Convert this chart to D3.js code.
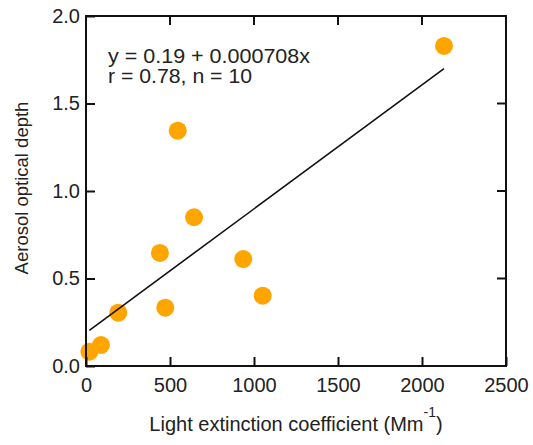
<!DOCTYPE html>
<html><head><meta charset="utf-8">
<script src="https://cdn.jsdelivr.net/npm/d3@7"></script>
<style>body{margin:0;background:#fff}svg{display:block}text{font-family:"Liberation Sans",Arial,sans-serif;fill:#222}</style>
</head><body>
<script>
const extinction = [20, 89, 192, 440, 472, 546, 643, 936, 1052, 2131];
const aod = [0.082, 0.12, 0.305, 0.646, 0.333, 1.345, 0.850, 0.611, 0.402, 1.829];
const xTicks = [0, 500, 1000, 1500, 2000, 2500];
const yTicks = [0.0, 0.5, 1.0, 1.5, 2.0];
const fitIntercept = 0.19, fitSlope = 0.000708;
const annotation = ["y = 0.19 + 0.000708x", "r = 0.78, n = 10"];

const W = 533, H = 445;
const m = {left: 86, right: 27, top: 16, bottom: 79};
const svg = d3.select("body").append("svg").attr("width", W).attr("height", H);
const x = d3.scaleLinear().domain([0, 2500]).range([m.left, W - m.right]);
const y = d3.scaleLinear().domain([0, 2]).range([H - m.bottom, m.top]);

// points
svg.append("g").selectAll("circle").data(extinction).join("circle")
  .attr("cx", (d) => x(d)).attr("cy", (d, i) => y(aod[i])).attr("r", 9).attr("fill", "#FFA500");

// regression line
const x0 = d3.min(extinction), x1 = d3.max(extinction);
svg.append("line").attr("x1", x(x0)).attr("y1", y(fitIntercept + fitSlope * x0))
  .attr("x2", x(x1)).attr("y2", y(fitIntercept + fitSlope * x1))
  .attr("stroke", "#111").attr("stroke-width", 1.6);

// frame
svg.append("rect").attr("x", m.left).attr("y", m.top).attr("width", W - m.left - m.right)
  .attr("height", H - m.top - m.bottom).attr("fill", "none").attr("stroke", "#111").attr("stroke-width", 2);

const fs = 20;
const xa = svg.append("g").attr("transform", `translate(0,${H - m.bottom})`)
  .call(d3.axisBottom(x).tickValues(xTicks).tickSize(-9).tickPadding(12).tickFormat(d3.format("d")));
const ya = svg.append("g").attr("transform", `translate(${m.left},0)`)
  .call(d3.axisLeft(y).tickValues(yTicks).tickSize(-9).tickPadding(6).tickFormat(d3.format(".1f")));
[xa, ya].forEach(a => {
  a.select(".domain").remove();
  a.selectAll(".tick line").attr("stroke", "#111").attr("stroke-width", 2);
  a.selectAll(".tick text").attr("font-size", fs).attr("fill", "#222").attr("font-family", "Liberation Sans, Arial, sans-serif");
});
// top and right ticks
svg.append("g").selectAll("line").data(xTicks.slice(1, -1)).join("line")
  .attr("x1", d => x(d)).attr("x2", d => x(d)).attr("y1", m.top).attr("y2", m.top + 9)
  .attr("stroke", "#111").attr("stroke-width", 2);
svg.append("g").selectAll("line").data(yTicks.slice(1, -1)).join("line")
  .attr("x1", W - m.right).attr("x2", W - m.right - 9).attr("y1", d => y(d)).attr("y2", d => y(d))
  .attr("stroke", "#111").attr("stroke-width", 2);

// annotation
const annWidths = [202, 144];
svg.append("g").selectAll("text").data(annotation).join("text")
  .attr("x", 108).attr("y", (d, i) => 63 + i * 20).attr("font-size", 20)
  .attr("textLength", (d, i) => annWidths[i]).attr("lengthAdjust", "spacingAndGlyphs").text(d => d);

// axis labels
const xl = svg.append("text").attr("x", 296).attr("y", 431)
  .attr("text-anchor", "middle").attr("font-size", 20);
xl.append("tspan").text("Light extinction coefficient (Mm");
xl.append("tspan").attr("dy", -14).attr("font-size", 14).text("-1");
xl.append("tspan").attr("dy", 14).text(")");

svg.append("text").attr("transform", `translate(28,188) rotate(-90)`)
  .attr("text-anchor", "middle").attr("font-size", 18.5).text("Aerosol optical depth");
</script>
</body></html>
